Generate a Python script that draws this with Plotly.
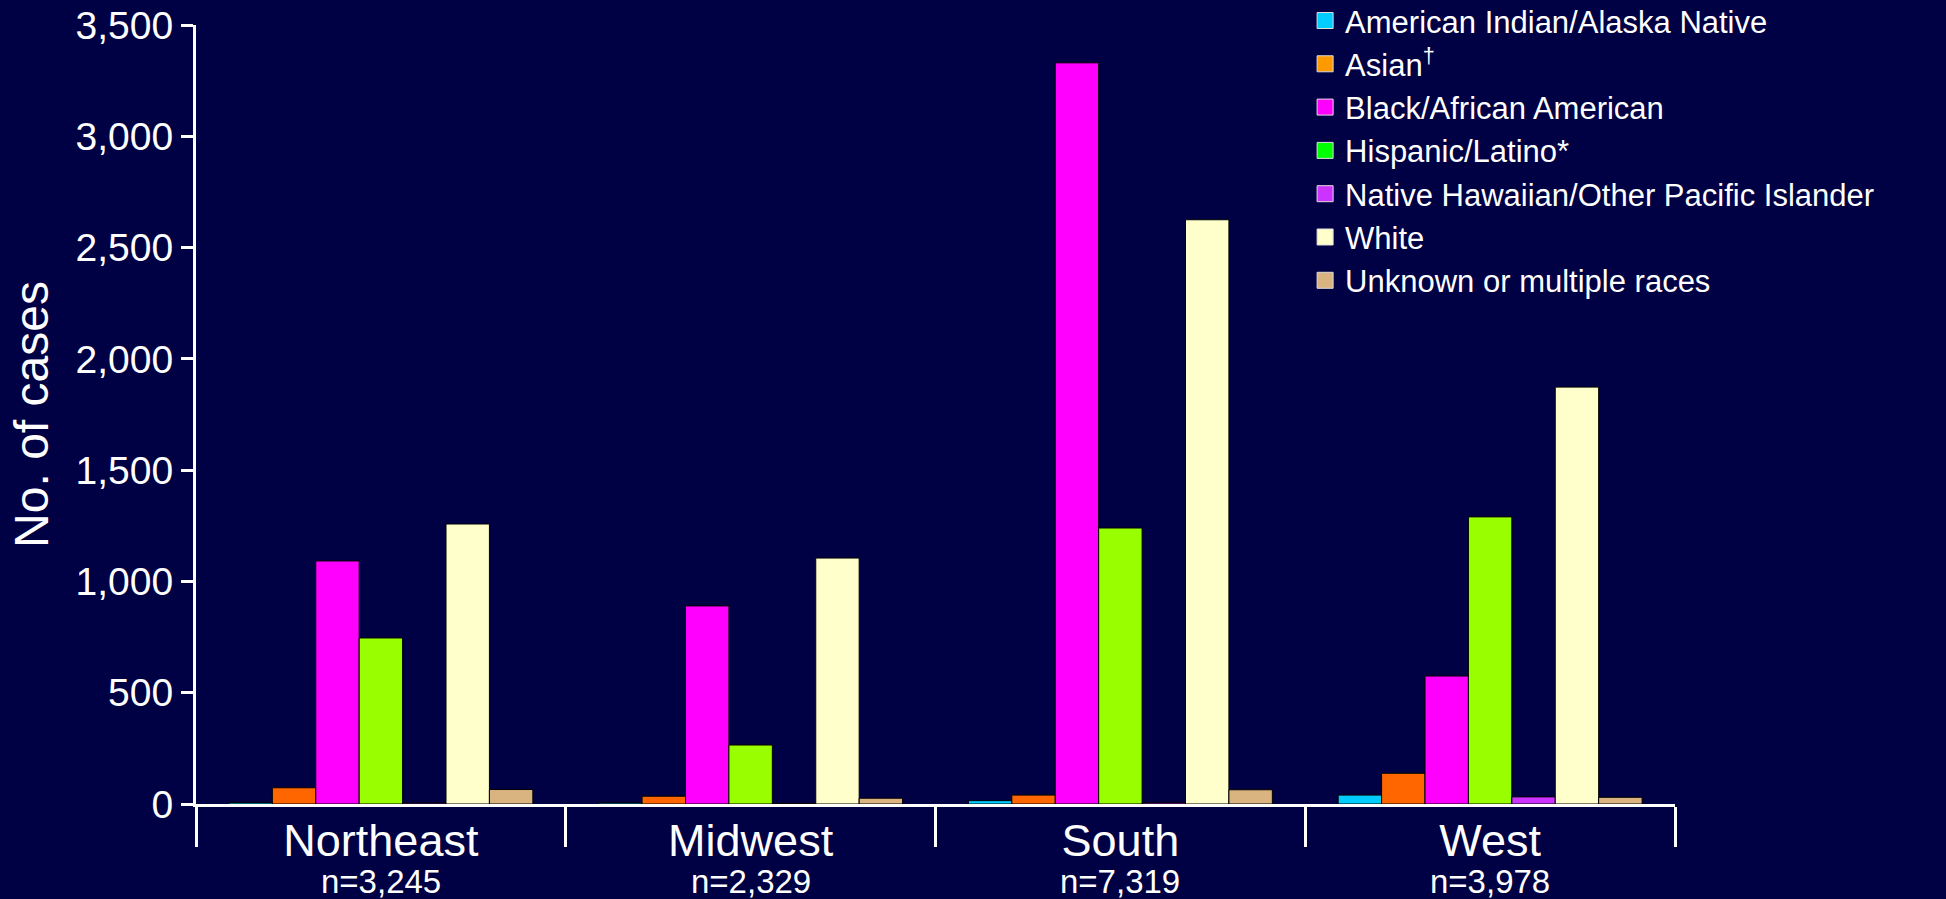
import plotly.graph_objects as go

regions = ["Northeast", "Midwest", "South", "West"]
region_n = ["n=3,245", "n=2,329", "n=7,319", "n=3,978"]

groups = [
    "American Indian/Alaska Native",
    "Asian<sup>†</sup>",
    "Black/African American",
    "Hispanic/Latino*",
    "Native Hawaiian/Other Pacific Islander",
    "White",
    "Unknown or multiple races",
]

american_indian = [7, 5, 15, 40]
asian = [73, 35, 40, 138]
black = [1092, 890, 3330, 575]
hispanic = [746, 265, 1240, 1290]
native_hawaiian = [4, 3, 5, 32]
white = [1258, 1105, 2625, 1873]
unknown = [65, 26, 64, 30]

series = [american_indian, asian, black, hispanic, native_hawaiian, white, unknown]
bar_colors = ["#00CCFF", "#FF6600", "#FF00FF", "#99FF00", "#CC33FF", "#FFFFCC", "#D9B380"]
legend_colors = ["#00CCFF", "#FF9900", "#FF00FF", "#00FF00", "#CC33FF", "#FFFFCC", "#D9B380"]

y_ticks = [0, 500, 1000, 1500, 2000, 2500, 3000, 3500]

BG = "#000044"
FONT = "Arial, Liberation Sans, sans-serif"

fig = go.Figure()
for name, vals, col in zip(groups, series, bar_colors):
    fig.add_trace(go.Bar(
        x=regions, y=vals, name=name, marker=dict(color=col, line=dict(color="black", width=1)),
        showlegend=False, hoverinfo="x+y",
    ))
for name, col in zip(groups, legend_colors):
    fig.add_trace(go.Scatter(
        x=[None], y=[None], mode="markers", name=name,
        marker=dict(symbol="square", size=20, color=col, line=dict(color="#DDDDDD", width=1)),
        showlegend=True,
    ))

for reg, n in zip(regions, region_n):
    fig.add_annotation(
        x=reg, xref="x", y=-0.099, yref="paper", text=n, showarrow=False,
        xanchor="center", yanchor="middle", font=dict(size=33, color="white", family=FONT),
    )

fig.update_layout(
    width=1946, height=899,
    margin=dict(l=196, r=271, t=25, b=95, autoexpand=False),
    paper_bgcolor=BG, plot_bgcolor=BG,
    font=dict(family=FONT, color="white"),
    barmode="group", bargap=0.178, bargroupgap=0,
    legend=dict(
        x=0.7499, y=1.040, xanchor="left", yanchor="top",
        font=dict(size=31, color="white", family=FONT),
        bgcolor="rgba(0,0,0,0)", itemsizing="trace", tracegroupgap=0,
    ),
    xaxis=dict(
        type="category", range=[-0.5, 3.5],
        showline=True, linecolor="white", linewidth=3,
        ticks="outside", tickson="boundaries", ticklen=40, tickwidth=3, tickcolor="white",
        tickfont=dict(size=45, color="white", family=FONT),
        ticklabelstandoff=-5,
        showgrid=False, zeroline=False,
    ),
    yaxis=dict(
        range=[0, 3500], tickvals=y_ticks, tickformat=",",
        showline=True, linecolor="white", linewidth=3,
        ticks="outside", ticklen=12, tickwidth=3, tickcolor="white",
        tickfont=dict(size=39, color="white", family=FONT),
        showgrid=False, zeroline=False,
        title=dict(text="No. of cases", font=dict(size=48, color="white", family=FONT), standoff=12),
    ),
)

fig.write_html(
    "out.html",
    config={"displayModeBar": False},
    post_script="document.body.style.margin='0';document.body.style.background='" + BG + "';",
)
